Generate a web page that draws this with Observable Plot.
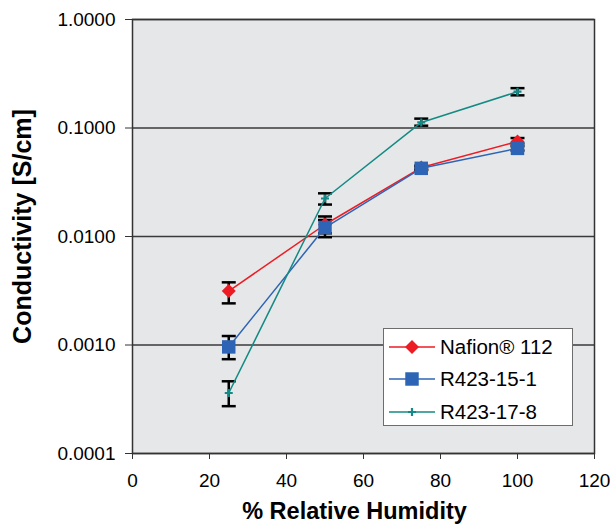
<!DOCTYPE html>
<html>
<head>
<meta charset="utf-8">
<script src="https://cdn.jsdelivr.net/npm/d3@7"></script>
<script src="https://cdn.jsdelivr.net/npm/@observablehq/plot@0.6"></script>
<style>
  body { margin: 0; background: white; font-family: "Liberation Sans", Arial, sans-serif; }
  #wrap { position: relative; width: 610px; height: 525px; }
  #legend { position: absolute; left: 383px; top: 328px; }
</style>
</head>
<body>
<div id="wrap"></div>
<script>
// ---- data ----
const rh = [25, 50, 75, 100];
const seriesNames = ["Nafion® 112", "R423-15-1", "R423-17-8"];
const nafion   = [0.00314, 0.0129, 0.0432, 0.0750];
const nafionLo = [0.00242, 0.0107, 0.0415, 0.0720];
const nafionHi = [0.00378, 0.0153, 0.0450, 0.0808];
const r15      = [0.00096, 0.0121, 0.0425, 0.0649];
const r15Lo    = [0.00074, 0.00985, 0.0410, 0.0620];
const r15Hi    = [0.00121, 0.0142, 0.0440, 0.0680];
const r17      = [0.000361, 0.0224, 0.1125, 0.216];
const r17Lo    = [0.000273, 0.0197, 0.105, 0.200];
const r17Hi    = [0.000463, 0.0250, 0.122, 0.233];
const yTicks = [0.0001, 0.001, 0.01, 0.1, 1];
const xTicks = [0, 20, 40, 60, 80, 100, 120];
const yLabel = "Conductivity [S/cm]";
const xLabel = "% Relative Humidity";

// ---- style ----
const colors = ["#ed1c24", "#2e64b5", "#138a85"];
const symbols = ["diamond2", "square", "plus"];
const symR = [6.3, 7.6, 2.7];

const vals = [nafion, r15, r17], los = [nafionLo, r15Lo, r17Lo], his = [nafionHi, r15Hi, r17Hi];
const rows = [];
seriesNames.forEach((s, k) => rh.forEach((x, i) => rows.push({series: s, k, x, y: vals[k][i], lo: los[k][i], hi: his[k][i]})));

const capSymbol = { draw(ctx) { ctx.moveTo(-7, 0); ctx.lineTo(7, 0); } };

const marks = [
  Plot.frame({fill: "#e6e7e8"}),
  Plot.gridY(yTicks, {stroke: "#3a3a3a", strokeOpacity: 1, strokeWidth: 1.5}),
  Plot.axisY({ticks: yTicks, tickFormat: d3.format(".4f"), tickSize: 7, tickPadding: 10, fontSize: 19, label: null, stroke: "#333"}),
  Plot.axisX({ticks: xTicks, tickFormat: d => String(d), tickSize: 6, tickPadding: 14, fontSize: 19, label: null, stroke: "#333"}),
  Plot.ruleX(rows, {x: "x", y1: "lo", y2: "hi", stroke: "black", strokeWidth: 2.5}),
  Plot.dot(rows, {x: "x", y: "lo", symbol: capSymbol, r: 5, stroke: "black", strokeWidth: 2.5, fill: "none"}),
  Plot.dot(rows, {x: "x", y: "hi", symbol: capSymbol, r: 5, stroke: "black", strokeWidth: 2.5, fill: "none"})
];
seriesNames.forEach((s, k) => {
  const d = rows.filter(r => r.k === k);
  marks.push(Plot.line(d, {x: "x", y: "y", stroke: colors[k], strokeWidth: 1.5}));
  if (k === 2) marks.push(Plot.dot(d, {x: "x", y: "y", symbol: symbols[k], r: symR[k], stroke: colors[k], strokeWidth: 2.2, fill: "none"}));
  else marks.push(Plot.dot(d, {x: "x", y: "y", symbol: symbols[k], r: symR[k], fill: colors[k], stroke: "none"}));
});
marks.push(
  Plot.frame({stroke: "#333", strokeWidth: 1.5}),
  Plot.text([yLabel], {frameAnchor: "left", text: d => d, rotate: -90, dx: -110, dy: -10, textAnchor: "middle", lineAnchor: "middle", fontSize: 25, fontWeight: "bold", fill: "black"}),
  Plot.text([xLabel], {frameAnchor: "bottom", text: d => d, dx: -9, dy: 58, textAnchor: "middle", lineAnchor: "middle", fontSize: 23.5, fontWeight: "bold", fill: "black"})
);

const chart = Plot.plot({
  width: 610, height: 525,
  marginLeft: 132, marginRight: 16, marginTop: 19, marginBottom: 72,
  x: {domain: [0, 120]},
  y: {type: "log", domain: [0.0001, 1]},
  style: {fontFamily: "'Liberation Sans', Arial, sans-serif", background: "white", color: "black", overflow: "visible"},
  marks
});
const wrap = document.getElementById("wrap");
wrap.appendChild(chart);

// ---- legend ----
const lg = d3.select(wrap).append("svg").attr("id", "legend").attr("width", 191).attr("height", 99);
lg.append("rect").attr("x", 0.5).attr("y", 0.5).attr("width", 189).attr("height", 97).attr("fill", "white").attr("stroke", "#6d6d6d").attr("stroke-width", 1);
const rowY = [19, 51, 84];
const d3sym = [d3.symbolDiamond2, d3.symbolSquare, d3.symbolPlus];
seriesNames.forEach((s, k) => {
  const g = lg.append("g").attr("transform", `translate(0,${rowY[k]})`);
  g.append("line").attr("x1", 6).attr("x2", 52).attr("stroke", colors[k]).attr("stroke-width", 1.5);
  const p = d3.symbol(d3sym[k], Math.PI * symR[k] * symR[k])();
  const sp = g.append("path").attr("d", p).attr("transform", "translate(29,0)");
  if (k === 2) sp.attr("fill", "none").attr("stroke", colors[k]).attr("stroke-width", 2.2);
  else sp.attr("fill", colors[k]);
  g.append("text").attr("x", 57).attr("y", 0).attr("dy", "0.36em").attr("font-size", 20.5).attr("font-family", "'Liberation Sans', Arial, sans-serif").text(s);
});
</script>
</body>
</html>
